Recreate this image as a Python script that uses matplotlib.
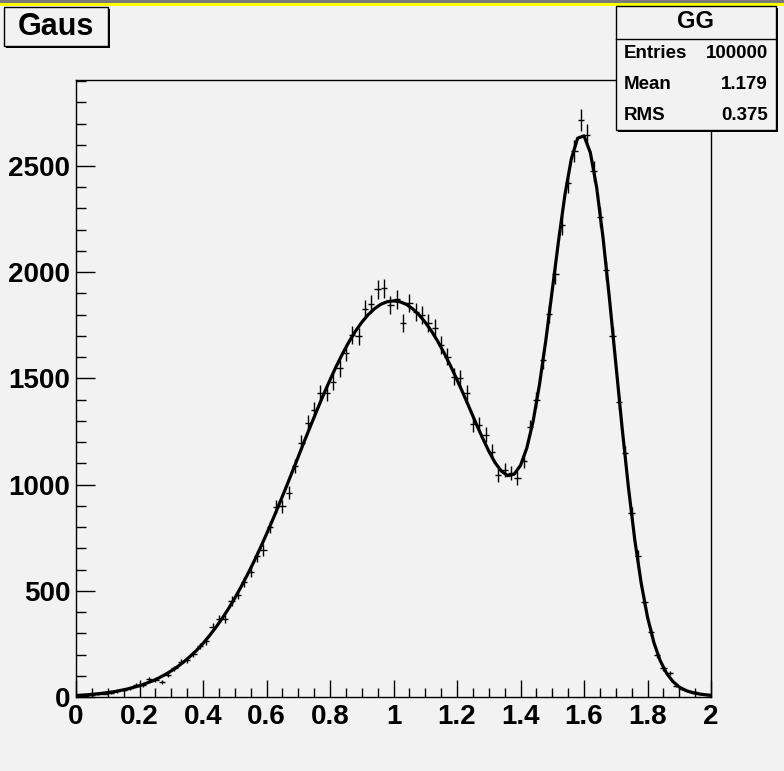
import numpy as np
import matplotlib
matplotlib.use('Agg')
import matplotlib.pyplot as plt
from matplotlib.patches import Rectangle
from matplotlib.ticker import MultipleLocator

plt.rcParams['font.family'] = ['Liberation Sans', 'DejaVu Sans']
plt.rcParams['font.weight'] = 'bold'

# histogram: 100 bins on [0, 2], bin contents
bin_edges = np.linspace(0, 2, 101)
counts = [
    4, 7, 9, 12, 16, 20, 26, 33, 41, 58,
    56, 84, 78, 71, 104, 135, 166, 172, 202, 240,
    262, 328, 366, 368, 452, 482, 543, 590, 662, 692,
    802, 896, 898, 962, 1089, 1197, 1292, 1350, 1430, 1431,
    1485, 1547, 1621, 1704, 1698, 1825, 1852, 1919, 1924, 1846,
    1872, 1762, 1856, 1814, 1798, 1762, 1736, 1657, 1602, 1508,
    1500, 1430, 1285, 1283, 1235, 1155, 1045, 1069, 1053, 1030,
    1110, 1270, 1400, 1585, 1805, 1990, 2220, 2420, 2570, 2717,
    2645, 2475, 2260, 2010, 1700, 1390, 1150, 866, 665, 449,
    307, 198, 135, 112, 52, 40, 28, 22, 12, 8,
]

# fitted curve (gaus + gaus), sampled every 0.02
curve_x = np.linspace(0, 2, 101)
curve_y = [
    7, 9, 11, 14, 17, 21, 25, 31, 37, 45,
    53, 64, 75, 89, 105, 123, 143, 166, 192, 220,
    252, 288, 327, 369, 415, 465, 519, 576, 636, 700,
    767, 836, 908, 981, 1056, 1131, 1207, 1281, 1354, 1425,
    1493, 1558, 1618, 1673, 1722, 1764, 1800, 1828, 1849, 1861,
    1865, 1861, 1849, 1828, 1800, 1764, 1722, 1673, 1618, 1558,
    1494, 1427, 1358, 1288, 1221, 1158, 1103, 1063, 1042, 1049,
    1090, 1173, 1300, 1473, 1682, 1915, 2150, 2365, 2533, 2631,
    2642, 2563, 2398, 2162, 1878, 1573, 1268, 986, 739, 537,
    376, 257, 171, 112, 73, 47, 31, 21, 15, 11,
    8,
]

stats_labels = ['Entries', 'Mean', 'RMS']
stats_values = ['100000', '1.179', '0.375']

W, H = 784, 771
bg = '#f2f2f2'

fig = plt.figure(figsize=(W / 100, H / 100), dpi=100, facecolor=bg)
ax = fig.add_axes([76 / W, (H - 697) / H, 635 / W, 617 / H], facecolor=bg)

centers = (bin_edges[:-1] + bin_edges[1:]) / 2
half = np.diff(bin_edges) / 2
counts = np.array(counts, dtype=float)
ax.errorbar(centers, counts, yerr=np.sqrt(counts), xerr=half, fmt='none',
            ecolor='black', elinewidth=1, capsize=0, zorder=2)
ax.plot(curve_x, curve_y, color='black', lw=2.3, zorder=3)

ax.set_xlim(0, 2)
ax.set_ylim(0, 2905)
ax.xaxis.set_major_locator(MultipleLocator(0.2))
ax.xaxis.set_minor_locator(MultipleLocator(0.05))
ax.yaxis.set_major_locator(MultipleLocator(500))
ax.yaxis.set_minor_locator(MultipleLocator(100))
ax.xaxis.set_major_formatter(plt.FuncFormatter(lambda v, p: f'{v:g}'))

ax.tick_params(axis='x', which='major', direction='in', length=12.5, width=1, pad=5,
               labelsize=20)
ax.tick_params(axis='x', which='minor', direction='in', length=6.5, width=1)
ax.tick_params(axis='y', which='major', direction='in', length=13.5, width=1, pad=4,
               labelsize=20)
ax.tick_params(axis='y', which='minor', direction='in', length=7, width=1)
for s in ax.spines.values():
    s.set_linewidth(1)
    s.set_color('black')


def px_rect(x0, y0, x1, y1, **kw):
    return Rectangle((x0 / W, 1 - y1 / H), (x1 - x0) / W, (y1 - y0) / H,
                     transform=fig.transFigure, **kw)


# canvas border at the top
fig.add_artist(px_rect(0, 0, W, 3, facecolor='#7a7a7a', edgecolor='none', zorder=10))
fig.add_artist(px_rect(0, 3, W, 6, facecolor='#ffff00', edgecolor='none', zorder=10))

# title box
fig.add_artist(px_rect(6, 9, 110, 48, facecolor='black', edgecolor='none', zorder=10))
fig.add_artist(px_rect(4, 7, 108, 46, facecolor=bg, edgecolor='black', lw=1, zorder=11))
fig.text(56 / W, 1 - 27 / H, 'Gaus', ha='center', va='center', fontsize=22,
         fontweight='bold', zorder=12)

# stats box
fig.add_artist(px_rect(618, 8, 778, 132, facecolor='black', edgecolor='none', zorder=10))
fig.add_artist(px_rect(616, 6, 776, 130, facecolor=bg, edgecolor='black', lw=1, zorder=11))
fig.add_artist(plt.Line2D([616 / W, 776 / W], [1 - 39 / H, 1 - 39 / H],
                          transform=fig.transFigure, color='black', lw=1, zorder=12))
fig.text(696 / W, 1 - 22 / H, 'GG', ha='center', va='center', fontsize=17,
         fontweight='bold', zorder=12)
for i, (lab, val) in enumerate(zip(stats_labels, stats_values)):
    yy = 1 - (54 + 30.5 * i) / H
    fig.text(624 / W, yy, lab, ha='left', va='center', fontsize=13.5,
             fontweight='bold', zorder=12)
    fig.text(768 / W, yy, val, ha='right', va='center', fontsize=13.5,
             fontweight='bold', zorder=12)

fig.savefig('out.png', dpi=100, facecolor=bg)
